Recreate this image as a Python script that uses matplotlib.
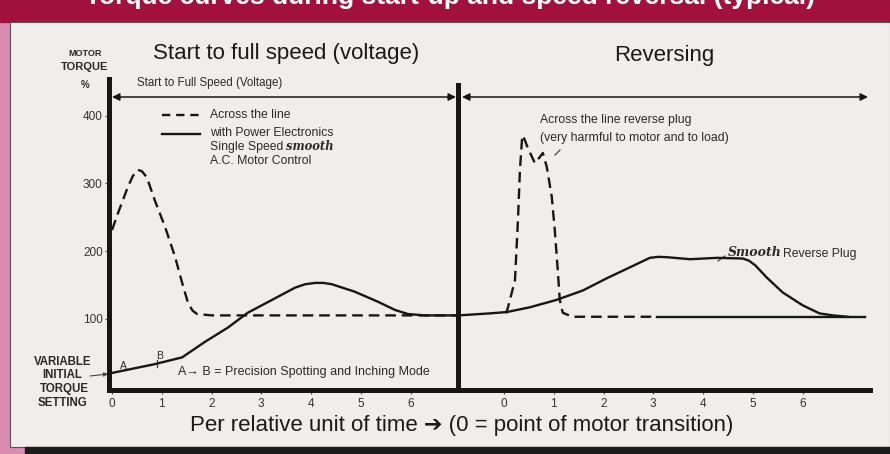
import matplotlib
matplotlib.use("Agg")
import matplotlib.pyplot as plt
from matplotlib.patches import Rectangle
from matplotlib.lines import Line2D

# ---------------- data ----------------
left_ticks = [0, 1, 2, 3, 4, 5, 6]
right_ticks = [0, 1, 2, 3, 4, 5, 6]
tick_labels = ["0", "1", "2", "3", "4", "5", "6"]
y_ticks = [100, 200, 300, 400]

# Start to full speed: across the line (dashed)
start_atl_t = [0.0, 0.12, 0.32, 0.42, 0.52, 0.60, 0.70, 0.86, 1.07, 1.27, 1.41, 1.53, 1.62, 1.71, 2.01, 6.95]
start_atl_v = [231, 256, 295, 311, 320, 318, 309, 275, 235, 191, 153, 123, 112, 107, 105, 105]

# Start to full speed: power electronics (solid)
start_pe_t = [0.0, 0.86, 1.41, 1.87, 2.33, 2.73, 3.22, 3.68, 3.88, 4.08, 4.25, 4.42, 4.88, 5.35, 5.69, 5.95, 6.29, 6.95]
start_pe_v = [20, 33, 43, 66, 87, 109, 128, 146, 151, 153, 153, 151, 140, 125, 113, 107, 105, 105]

# Reversing: across the line reverse plug (dashed, then solid flat)
rev_atl_t = [0.04, 0.08, 0.22, 0.28, 0.32, 0.36, 0.38, 0.48, 0.62, 0.72, 0.78, 0.86, 0.96,
             1.02, 1.08, 1.12, 1.18, 1.37, 3.07]
rev_atl_v = [108, 117, 157, 246, 320, 364, 371, 352, 330, 339, 345, 324, 280,
             231, 172, 128, 109, 103, 103]
rev_atl_tail_t = [3.07, 7.25]
rev_atl_tail_v = [103, 103]

# Reversing: smooth reverse plug (solid)
rev_pe_t = [-0.92, -0.28, 0.06, 0.52, 1.06, 1.59, 2.07, 2.53, 2.93, 3.10, 3.27, 3.74, 4.28, 4.80,
            4.92, 5.05, 5.28, 5.60, 6.00, 6.34, 6.61, 6.90]
rev_pe_v = [105, 108, 110, 117, 128, 142, 160, 176, 190, 191.5, 191, 188, 190, 189,
            186, 179, 161, 139, 120, 108, 105, 103]

# ---------------- layout ----------------
W, H = 890, 454
RIGHT_OFFSET = 7.88   # x shift of the "Reversing" section
MID_X = 6.955         # divider between sections
FONT = ["Liberation Sans", "DejaVu Sans"]
INK = "#161616"
TXT = "#2a2a2a"

fig = plt.figure(figsize=(W / 100, H / 100), dpi=100)
fig.patch.set_facecolor("#d98cb0")

bg = fig.add_axes([0, 0, 1, 1])
bg.set_xlim(0, W)
bg.set_ylim(H, 0)
bg.axis("off")
bg.set_zorder(0)

# decorative page elements
bg.add_patch(Rectangle((0, 0), W, 22, color="#a2103d", zorder=1))
bg.add_patch(Rectangle((10, 22), W - 10, 425, facecolor="#efeeec", edgecolor="#555555", lw=0.8, zorder=1))
bg.add_patch(Rectangle((25, 447), W - 25, 8, color="#1c1c1c", zorder=1))
bg.text(450, -3, "Torque curves during start-up and speed reversal (typical)", color="white",
        fontsize=19, fontweight="bold", family=FONT, ha="center", va="center", zorder=2)

# ---------------- chart ----------------
ax = fig.add_axes([109 / W, (H - 390) / H, (870 - 109) / W, (390 - 79) / H])
ax.set_zorder(2)
ax.patch.set_alpha(0)
x_lo = (109 - 112) / 49.75
x_hi = (870 - 112) / 49.75
ax.set_xlim(x_lo, x_hi)
ax.set_ylim(-5.2, 454.2)

for s in ["top", "right"]:
    ax.spines[s].set_visible(False)
for s in ["left", "bottom"]:
    ax.spines[s].set_linewidth(3.6)
    ax.spines[s].set_color(INK)

xt = list(left_ticks) + [t + RIGHT_OFFSET for t in right_ticks]
ax.set_xticks(xt)
ax.set_xticklabels(tick_labels + tick_labels, family=FONT)
ax.set_yticks(y_ticks)
ax.set_yticklabels([str(v) for v in y_ticks], family=FONT)
ax.tick_params(axis="x", direction="out", length=3, width=0.9, color="#555555",
               labelsize=8.5, labelcolor="#333333", pad=3)
ax.tick_params(axis="y", direction="out", length=3, width=0.9, color="#555555",
               labelsize=8.5, labelcolor="#333333", pad=1.5)

dash = (4.5, 2.5)
ax.plot(start_atl_t, start_atl_v, color=INK, lw=1.7, dashes=dash)
ax.plot(start_pe_t, start_pe_v, color=INK, lw=1.7)
ax.plot([t + RIGHT_OFFSET for t in rev_atl_t], rev_atl_v, color=INK, lw=1.7, dashes=dash)
ax.plot([t + RIGHT_OFFSET for t in rev_atl_tail_t], rev_atl_tail_v, color=INK, lw=1.7)
ax.plot([t + RIGHT_OFFSET for t in rev_pe_t], rev_pe_v, color=INK, lw=1.7)

ax.axvline(MID_X, ymin=0, ymax=(390 - 85) / (390 - 79), color=INK, lw=3.6)

# ---------------- texts & annotations (pixel coordinates) ----------------
def t(x, y, s, size, weight="normal", ha="left", color=TXT, **kw):
    bg.text(x, y, s, fontsize=size, fontweight=weight, ha=ha, va="center",
            color=color, family=kw.pop("family", FONT), zorder=3, **kw)

t(85, 54, "MOTOR", 6.5, "bold", "center")
t(85, 67, "TORQUE", 8, "bold", "center")
t(85, 85, "%", 7, "bold", "center")
t(286, 54, "Start to full speed (voltage)", 16, ha="center", color="#1a1a1a")
t(664, 56, "Reversing", 16, ha="center", color="#1a1a1a")
t(137, 83, "Start to Full Speed (Voltage)", 8.3)

bg.annotate("", xy=(112, 97), xytext=(456, 97),
            arrowprops=dict(arrowstyle="<|-|>", color=INK, lw=1.1, mutation_scale=11,
                            shrinkA=0, shrinkB=0), zorder=3)
bg.annotate("", xy=(462, 97), xytext=(868, 97),
            arrowprops=dict(arrowstyle="<|-|>", color=INK, lw=1.1, mutation_scale=11,
                            shrinkA=0, shrinkB=0), zorder=3)

# legend
bg.add_line(Line2D([162, 200], [115, 115], color=INK, lw=1.7, dashes=(3.5, 2.5), zorder=3))
bg.add_line(Line2D([162, 200], [134, 134], color=INK, lw=1.7, zorder=3))
t(210, 115, "Across the line", 8.8)
t(210, 133, "with Power Electronics", 8.8)
t(210, 147, "Single Speed", 8.8)
t(286, 147, "smooth", 8.3, "bold", family="DejaVu Serif", style="italic")
t(210, 161, "A.C. Motor Control", 8.8)

t(540, 120, "Across the line reverse plug", 8.8)
t(540, 138, "(very harmful to motor and to load)", 8.8)
bg.add_line(Line2D([560, 555], [150, 155], color="#444444", lw=0.9, zorder=3))

t(728, 253, "Smooth", 9, "bold", family="DejaVu Serif", style="italic")
t(783, 254, "Reverse Plug", 8.8)
bg.add_line(Line2D([725, 718], [256, 261], color="#444444", lw=0.9, zorder=3))

t(63, 362, "VARIABLE", 8.3, "bold", "center")
t(62, 375, "INITIAL", 8.3, "bold", "center")
t(64, 389, "TORQUE", 8.3, "bold", "center")
t(63, 403, "SETTING", 8.3, "bold", "center")
bg.annotate("", xy=(108, 374), xytext=(90, 376),
            arrowprops=dict(arrowstyle="-|>", color="#444444", lw=0.8, mutation_scale=6,
                            shrinkA=0, shrinkB=0), zorder=3)

t(120, 366, "A", 7.5)
t(160, 356, "B", 7.5, ha="center")
bg.add_line(Line2D([157, 157], [360, 367], color="#444444", lw=0.9, zorder=3))
t(178, 372, "A\u2192 B = Precision Spotting and Inching Mode", 9)

t(462, 426, "Per relative unit of time \u2794 (0 = point of motor transition)", 16,
  ha="center", color="#1a1a1a")

fig.savefig("out.png", dpi=100, facecolor=fig.get_facecolor())
